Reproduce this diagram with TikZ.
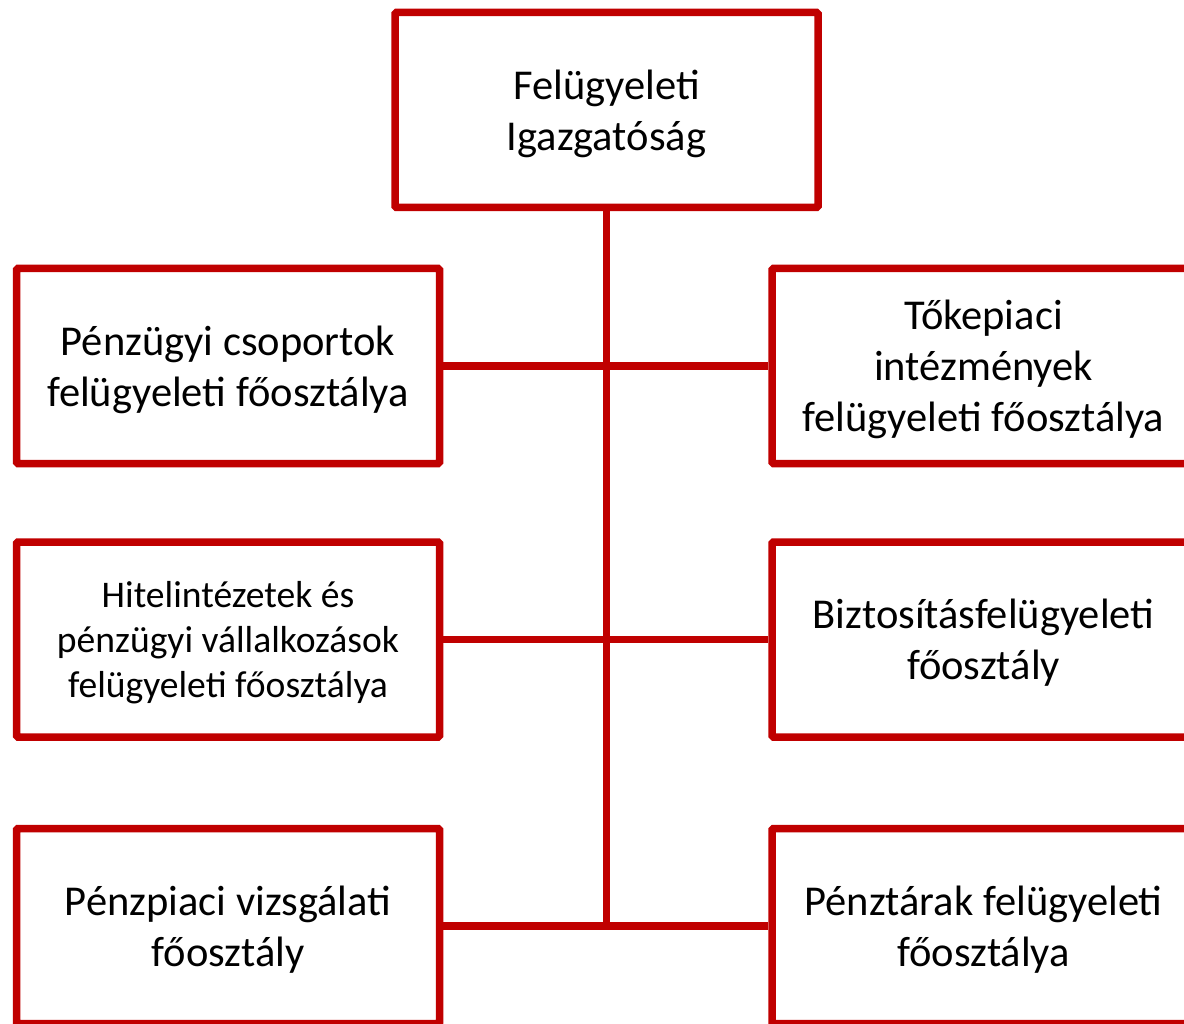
\documentclass[tikz,border=0pt]{standalone}
\usepackage{fontspec}
\setmainfont{Carlito}
\definecolor{mnbred}{RGB}{192,0,0}
\tikzset{
	unit/.style={draw=mnbred, line width=7.5pt, rounded corners=1.5pt, fill=white,
		minimum width=423pt, minimum height=195pt, inner sep=0pt, align=center,
		text depth=0pt, font=\fontsize{42.5}{51}\selectfont},
	link/.style={draw=mnbred, line width=7.5pt}
}

\begin{document}
\begin{tikzpicture}[x=1pt, y=1pt]
	\useasboundingbox (0,0) rectangle (1184,-1024);
	
	\node[unit] (top) at (606.5,-110) {Felügyeleti\\Igazgatóság};
	
	% left column
	\node[unit] (pcs) at (228,-366) {Pénzügyi csoportok\\felügyeleti főosztálya};
	\node[unit, font=\fontsize{37.6}{45}\selectfont] (hit) at (228,-639.5) {Hitelintézetek és\\pénzügyi vállalkozások\\felügyeleti főosztálya};
	\node[unit] (ppv) at (228,-926) {Pénzpiaci vizsgálati\\főosztály};
	
	% right column
	\node[unit] (tkp) at (983.5,-366) {Tőkepiaci\\intézmények\\felügyeleti főosztálya};
	\node[unit] (bzt) at (983.5,-639.5) {Biztosításfelügyeleti\\főosztály};
	\node[unit] (ptr) at (983.5,-926) {Pénztárak felügyeleti\\főosztálya};
	
	\draw[link] (top.south) -- (top.south |- ppv.east);
	\draw[link] (pcs.east) -- (tkp.west);
	\draw[link] (hit.east) -- (bzt.west);
	\draw[link] (ppv.east) -- (ptr.west);
\end{tikzpicture}
\end{document}
